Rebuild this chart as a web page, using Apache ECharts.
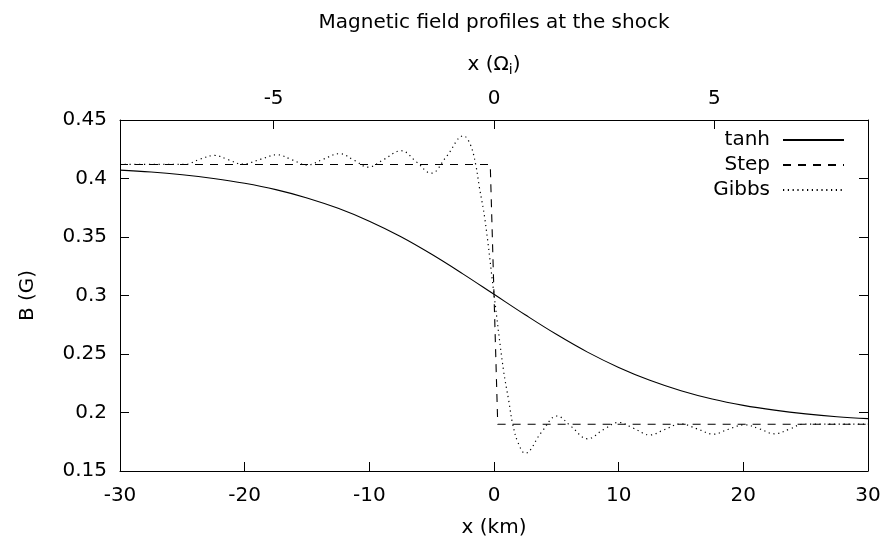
<!DOCTYPE html>
<html><head><meta charset="utf-8">
<script src="https://cdn.jsdelivr.net/npm/echarts@6/dist/echarts.min.js"></script>
<style>html,body{margin:0;padding:0;background:#fff}#c{width:886px;height:544px}</style>
</head><body><div id="c"></div>
<script>
// ---- data ----
const seriesNames = ['tanh', 'Step', 'Gibbs'];

const tanhX = [-30, -27.5, -25, -22.5, -20, -17.5, -15, -12.5, -10, -7.5, -5, -2.5, 0,
               2.5, 5, 7.5, 10, 12.5, 15, 17.5, 20, 22.5, 25, 27.5, 30];
const tanhY = [0.4072, 0.4056, 0.4032, 0.4000, 0.3959, 0.3905, 0.3834, 0.3745, 0.3635, 0.3504, 0.3352, 0.3185, 0.3010,
               0.2835, 0.2668, 0.2516, 0.2385, 0.2275, 0.2186, 0.2115, 0.2061, 0.2020, 0.1988, 0.1964, 0.1948];

const stepX = [-30, -0.3, 0.3, 30];
const stepY = [0.412, 0.412, 0.190, 0.190];

const gibbsX = [-30, -27, -24.8, -23.6, -22.4, -21.3, -20.2, -18.7, -17.4, -16.2, -15.0, -13.7, -12.4, -11.2, -10.1,
                -8.8, -7.45, -6.2, -5.05, -3.8, -2.45, -1.9, -1.47, -1.18, -0.72, 0, 0.75, 1.2, 1.5, 1.95, 2.5,
                3.8, 5.05, 6.2, 7.5, 8.8, 10.0, 11.2, 12.5, 13.7, 15.0, 16.3, 17.6, 18.8, 20.1, 21.3, 22.5, 23.7, 24.8, 27, 30];
const gibbsY = [0.412, 0.412, 0.412, 0.4165, 0.4197, 0.4160, 0.4123, 0.4165, 0.4203, 0.4160, 0.4115, 0.4165, 0.4212, 0.4155, 0.4097,
                0.4165, 0.4237, 0.4140, 0.4045, 0.4190, 0.4365, 0.4290, 0.4120, 0.3930, 0.3645, 0.3010, 0.2370, 0.2090, 0.1900, 0.1737, 0.1652,
                0.1830, 0.1970, 0.1880, 0.1775, 0.1855, 0.1915, 0.1865, 0.1808, 0.1855, 0.1903, 0.1860, 0.1815, 0.1857, 0.1895, 0.1860, 0.1818, 0.1858, 0.1900, 0.190, 0.190];

const xKmRange = [-30, 30];
const xKmStep = 10;
const xOmegaRange = [-8.485, 8.485];
const xOmegaTicks = [-5, 0, 5];
const yRange = [0.15, 0.45];
const yStep = 0.05;

// ---- chart ----
const FONT = 'DejaVu Sans';
const FS = 20;
const pairs = (xs, ys) => xs.map((x, i) => [x, ys[i]]);
const fmt = v => String(parseFloat(Number(v).toFixed(2)));

const chart = echarts.init(document.getElementById('c'), null, {renderer: 'canvas'});
const axisCommon = {
  axisLine: {show: true, onZero: false, lineStyle: {color: '#000', width: 1}},
  axisTick: {show: true, inside: true, length: 9, lineStyle: {color: '#000', width: 1}},
  splitLine: {show: false},
  axisLabel: {color: '#000', fontFamily: FONT, fontSize: FS},
  nameTextStyle: {color: '#000', fontFamily: FONT, fontSize: FS}
};

chart.setOption({
  animation: false,
  backgroundColor: '#fff',
  textStyle: {fontFamily: FONT},
  title: {
    text: 'Magnetic field profiles at the shock',
    left: 489, top: 8, textAlign: 'center',
    textStyle: {fontFamily: FONT, fontSize: FS, fontWeight: 'normal', color: '#000'}
  },
  grid: {left: 120, right: 18, top: 120, bottom: 73, containLabel: false, outerBoundsMode: 'none'},
  legend: {
    orient: 'vertical', right: 36, top: 125, align: 'right',
    itemWidth: 61, itemHeight: 10, itemGap: 5,
    itemStyle: {color: 'rgba(0,0,0,0)', borderWidth: 0, opacity: 0},
    textStyle: {fontFamily: FONT, fontSize: FS, color: '#000', lineHeight: 20, padding: [0, 8, 0, 0]},
    data: seriesNames
  },
  xAxis: [
    Object.assign({}, axisCommon, {
      type: 'value', position: 'bottom', min: xKmRange[0], max: xKmRange[1], interval: xKmStep,
      name: 'x (km)', nameLocation: 'middle', nameGap: 47,
      axisLabel: Object.assign({}, axisCommon.axisLabel, {margin: 15})
    }),
    Object.assign({}, axisCommon, {
      type: 'value', position: 'top', min: xOmegaRange[0], max: xOmegaRange[1],
      name: '{a|x (Ω}{s|i}{a|)}', nameLocation: 'middle', nameGap: 43,
      nameTextStyle: {
        rich: {
          a: {fontFamily: FONT, fontSize: FS, color: '#000'},
          s: {fontFamily: FONT, fontSize: 14, color: '#000', padding: [10, 0, 0, 0]}
        }
      },
      axisTick: Object.assign({}, axisCommon.axisTick, {customValues: xOmegaTicks}),
      axisLabel: Object.assign({}, axisCommon.axisLabel, {customValues: xOmegaTicks, margin: 11})
    })
  ],
  yAxis: [
    Object.assign({}, axisCommon, {
      type: 'value', position: 'left', min: yRange[0], max: yRange[1], interval: yStep,
      name: 'B (G)', nameLocation: 'middle', nameGap: 82, nameRotate: 90,
      axisLabel: Object.assign({}, axisCommon.axisLabel, {margin: 13, formatter: fmt})
    }),
    Object.assign({}, axisCommon, {
      type: 'value', position: 'right', min: yRange[0], max: yRange[1], interval: yStep,
      axisLabel: {show: false}
    })
  ],
  series: [
    {
      name: seriesNames[0], type: 'line', xAxisIndex: 0, yAxisIndex: 0,
      data: pairs(tanhX, tanhY), smooth: 0.4, symbol: 'none',
      lineStyle: {color: '#000', width: 1.1, type: 'solid'}, itemStyle: {color: '#000'}
    },
    {
      name: seriesNames[1], type: 'line', xAxisIndex: 0, yAxisIndex: 0,
      data: pairs(stepX, stepY), symbol: 'none',
      lineStyle: {color: '#000', width: 1.1, type: [8, 7]}, itemStyle: {color: '#000'}
    },
    {
      name: seriesNames[2], type: 'line', xAxisIndex: 0, yAxisIndex: 0,
      data: pairs(gibbsX, gibbsY), smooth: 0.4, symbol: 'none',
      lineStyle: {color: '#000', width: 1.2, type: [1.2, 3.6]}, itemStyle: {color: '#000'}
    }
  ]
});
</script></body></html>
